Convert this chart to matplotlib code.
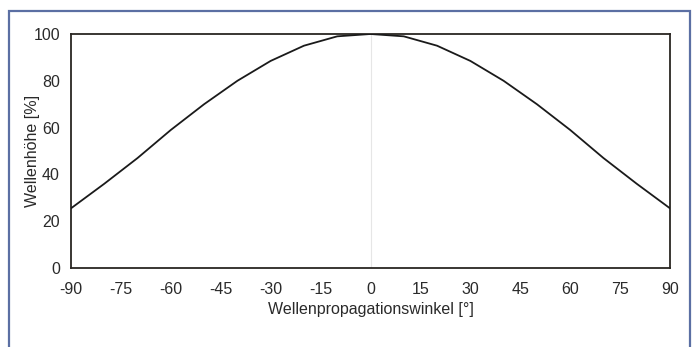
import matplotlib
matplotlib.use("Agg")
import matplotlib.pyplot as plt
from matplotlib.patches import Rectangle

# Wellenhoehe ueber Propagationswinkel
winkel = [-90, -80, -70, -60, -50, -40, -30, -20, -10, 0, 10, 20, 30, 40, 50, 60, 70, 80, 90]
hoehe = [25.5, 36, 47, 59, 70, 80, 88.5, 95, 99, 100, 99, 95, 88.5, 80, 70, 59, 47, 36, 25.5]
x_ticks = [-90, -75, -60, -45, -30, -15, 0, 15, 30, 45, 60, 75, 90]
y_ticks = [0, 20, 40, 60, 80, 100]

plt.rcParams["font.family"] = ["Liberation Sans", "DejaVu Sans"]
plt.rcParams["axes.unicode_minus"] = False

fig = plt.figure(figsize=(6.96, 3.47), dpi=100)
ax = fig.add_axes([71/696, 1-268/347, (670-71)/696, (268-34)/347])

# blauer Rahmen aussen
rahmen = Rectangle((9/696, -0.1), (690-9)/696, 1.1-11/347, transform=fig.transFigure,
                   fill=False, edgecolor="#5b6fa3", linewidth=1.6, clip_on=False)
fig.patches.append(rahmen)

ax.axvline(0, color="#e6e6e6", linewidth=0.8, zorder=1)
ax.plot(winkel, hoehe, color="#1a1a1a", linewidth=1.3, zorder=3)

ax.set_xlim(-90, 90)
ax.set_ylim(0, 100)
ax.set_xticks(x_ticks)
ax.set_yticks(y_ticks)
ax.tick_params(length=0, labelsize=11.5, colors="#2a2a2a")
ax.tick_params(axis="x", pad=10)
ax.tick_params(axis="y", pad=8)
for s in ax.spines.values():
    s.set_color("#2a2622")
    s.set_linewidth(1.3)

ax.set_xlabel("Wellenpropagationswinkel [°]", fontsize=11.5, color="#2a2a2a")
ax.set_ylabel("Wellenhöhe [%]", fontsize=11.5, color="#2a2a2a")
ax.xaxis.set_label_coords(0.5, -(302-268)/234)
ax.yaxis.set_label_coords(-31/599, 0.5)

fig.savefig("out.png", dpi=100)
